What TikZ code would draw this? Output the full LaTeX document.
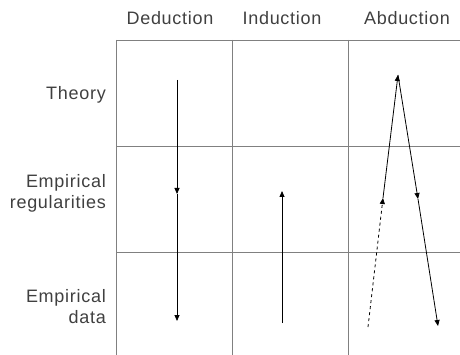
\documentclass[tikz,border=0pt]{standalone}
\usepackage{fontspec}
\setmainfont[LetterSpace=4]{Liberation Sans}
\usetikzlibrary{arrows.meta}
\begin{document}
\begin{tikzpicture}[x=1pt,y=-1pt,
  gridline/.style={draw=black!50, line width=0.9pt},
  arr/.style={line width=0.8pt,-{Triangle[length=6pt,width=5pt]}},
  lbl/.style={font=\fontsize{18}{21}\selectfont, text=black!75, inner sep=0pt}]
\useasboundingbox (0,0) rectangle (460,355);
% headers
\node[lbl] (hded) at (170,18) {Deduction};
\node[lbl] (hind) at (282,18) {Induction};
\node[lbl] (habd) at (407,18) {Abduction};
% row labels
\node[lbl, anchor=east, align=right] (rth) at (106,95) {Theory};
\node[lbl, anchor=east, align=right] (rreg) at (106,193) {Empirical\\regularities};
\node[lbl, anchor=east, align=right] (rdat) at (106,307) {Empirical\\data};
% grid
\draw[gridline] (116,40) -- (460,40);
\draw[gridline] (116,146) -- (460,146);
\draw[gridline] (116,252) -- (460,252);
\draw[gridline] (116,40) -- (116,355);
\draw[gridline] (232,40) -- (232,355);
\draw[gridline] (348,40) -- (348,355);
% deduction
\coordinate (d0) at (177,80);
\coordinate (d1) at (177,194);
\coordinate (d2) at (177,321);
\draw[arr] (d0) -- (d1);
\draw[arr] (d1) -- (d2);
% induction
\coordinate (i0) at (282,323);
\coordinate (i1) at (282,191);
\draw[arr] (i0) -- (i1);
% abduction
\coordinate (a0) at (368,327);
\coordinate (a1) at (383,198);
\coordinate (a2) at (398,75);
\coordinate (a3) at (418,199);
\coordinate (a4) at (438,326);
\draw[arr, dashed] (a0) -- (a1);
\draw[arr] (a1) -- (a2);
\draw[arr] (a2) -- (a3);
\draw[arr] (a3) -- (a4);
\end{tikzpicture}
\end{document}
